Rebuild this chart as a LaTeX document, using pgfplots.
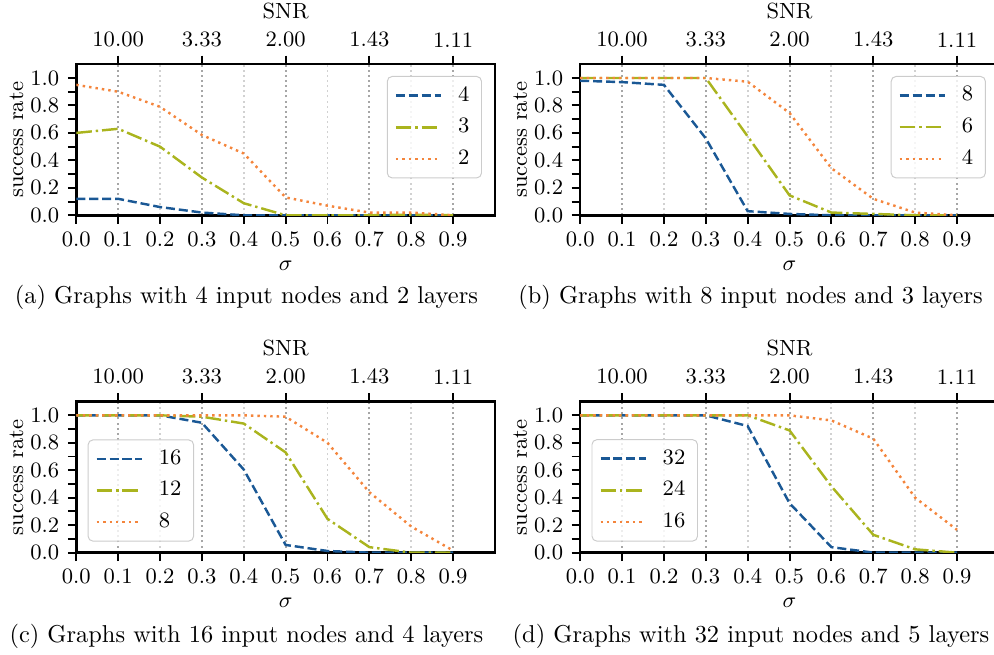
\documentclass[border=0pt]{standalone}
\usepackage{pgfplots}
\usepackage{pgfplotstable}
\pgfplotsset{compat=1.18}
\definecolor{cblue}{HTML}{1A5895}
\definecolor{cgreen}{HTML}{AAB41E}
\definecolor{corange}{HTML}{F4853C}

\pgfplotsset{
  base/.style={scale only axis, width=171.6pt, height=61.9pt,
    xmin=0, xmax=1, ymin=0, ymax=1.1, font=\small,
    tick align=outside, major tick length=3.5pt,
    tick style={black, line width=0.8pt}},
  main/.style={base, axis line style={line width=1pt},
    minor tick length=3.5pt,
    xtick={0,0.1,0.2,0.3,0.4,0.5,0.6,0.7,0.8,0.9},
    ytick={0,0.2,0.4,0.6,0.8,1.0},
    minor ytick={0.1,0.3,0.5,0.7,0.9},
    xtick pos=bottom, ytick pos=left,
    xticklabel style={/pgf/number format/.cd, fixed, fixed zerofill, precision=1},
    yticklabel style={/pgf/number format/.cd, fixed, fixed zerofill, precision=1},
    xlabel={$\sigma$}, ylabel={success rate},
    ylabel shift=-4pt, xlabel shift=-1pt,
    legend cell align=left,
    legend style={font=\small, draw=black!20, rounded corners=2pt, fill=white,
      fill opacity=0.8, text opacity=1, inner xsep=3pt, inner ysep=2pt,
      row sep=1.5pt},
    legend image code/.code={\draw[##1] (0cm,0cm) -- (0.65cm,0cm); \path (0.65cm+4.5pt,0cm);},
  },
  top/.style={base, axis x line*=top, axis y line=none,
    xtick={0.1,0.3,0.5,0.7,0.9},
    xticklabels={10.00,3.33,2.00,1.43,1.11},
    minor xtick={0,0.2,0.4,0.6,0.8}, minor tick length=0pt,
    xmajorgrids, xminorgrids,
    major grid style={black!35, line width=0.8pt, dash pattern=on 0.8pt off 1.3pt},
    minor grid style={black!18, line width=0.8pt, dash pattern=on 0.8pt off 1.3pt},
    xlabel={SNR}, xlabel shift=-1.5pt},
  ne/.style={legend style={at={(0.969,0.9225)}, anchor=north east}},
  sw/.style={legend style={at={(0.027,0.073)}, anchor=south west}},
  s1/.style={cblue, line width=1pt, dash pattern=on 3.7pt off 1.6pt},
  s2/.style={cgreen, line width=1pt, dash pattern=on 6.4pt off 1.6pt on 1pt off 1.6pt},
  s3/.style={corange, line width=1pt, dash pattern=on 1pt off 1.65pt},
}

\pgfplotstableread{
x b g o
0.0 0.12 0.60 0.95
0.1 0.12 0.63 0.90
0.2 0.06 0.50 0.79
0.3 0.02 0.275 0.585
0.4 0.0 0.088 0.45
0.5 0.0 0.0 0.13
0.6 0.0 0.0 0.07
0.7 0.0 0.0 0.02
0.8 0.0 0.005 0.02
0.9 0.0 0.0 0.0
}\dataA

\pgfplotstableread{
x b g o
0.0 0.98 1.0 1.0
0.1 0.97 1.0 1.0
0.2 0.95 1.0 1.0
0.3 0.56 1.0 1.0
0.4 0.03 0.575 0.973
0.5 0.01 0.145 0.745
0.6 0.0 0.02 0.343
0.7 0.0 0.01 0.12
0.8 0.0 0.0 0.02
0.9 0.0 0.0 0.0
}\dataB

\pgfplotstableread{
x b g o
0.0 1.0 1.0 1.0
0.1 1.0 1.0 1.0
0.2 1.0 1.0 1.0
0.3 0.946 0.99 1.0
0.4 0.605 0.94 1.0
0.5 0.056 0.73 0.99
0.6 0.012 0.246 0.80
0.7 0.0 0.04 0.44
0.8 0.0 0.0 0.19
0.9 0.0 0.0 0.015
}\dataC

\pgfplotstableread{
x b g o
0.0 1.0 1.0 1.0
0.1 1.0 1.0 1.0
0.2 1.0 1.0 1.0
0.3 1.0 1.0 1.0
0.4 0.922 1.0 1.0
0.5 0.36 0.89 1.0
0.6 0.04 0.483 0.963
0.7 0.0 0.13 0.83
0.8 0.0 0.024 0.40
0.9 0.0 0.0 0.166
}\dataD

\begin{document}
\begin{tikzpicture}
\useasboundingbox (0,0) rectangle (407.4pt,268.4pt);

% (a)
\begin{axis}[top, at={(31.27pt,180.16pt)}, anchor=south west]
\end{axis}
\begin{axis}[main, ne, at={(31.27pt,180.16pt)}, anchor=south west]
\addplot[s1] table[x=x,y=b]{\dataA};
\addplot[s2] table[x=x,y=g]{\dataA};
\addplot[s3] table[x=x,y=o]{\dataA};
\legend{4,3,2}
\end{axis}

% (b)
\begin{axis}[top, at={(237.8pt,180.16pt)}, anchor=south west]
\end{axis}
\begin{axis}[main, ne, at={(237.8pt,180.16pt)}, anchor=south west]
\addplot[s1] table[x=x,y=b]{\dataB};
\addplot[s2] table[x=x,y=g]{\dataB};
\addplot[s3] table[x=x,y=o]{\dataB};
\legend{8,6,4}
\end{axis}

% (c)
\begin{axis}[top, at={(31.27pt,41.9pt)}, anchor=south west]
\end{axis}
\begin{axis}[main, sw, at={(31.27pt,41.9pt)}, anchor=south west]
\addplot[s1] table[x=x,y=b]{\dataC};
\addplot[s2] table[x=x,y=g]{\dataC};
\addplot[s3] table[x=x,y=o]{\dataC};
\legend{16,12,8}
\end{axis}

% (d)
\begin{axis}[top, at={(237.8pt,41.9pt)}, anchor=south west]
\end{axis}
\begin{axis}[main, sw, at={(237.8pt,41.9pt)}, anchor=south west]
\addplot[s1] table[x=x,y=b]{\dataD};
\addplot[s2] table[x=x,y=g]{\dataD};
\addplot[s3] table[x=x,y=o]{\dataD};
\legend{32,24,16}
\end{axis}

\node at (101pt,146.7pt) {(a) Graphs with 4 input nodes and 2 layers};
\node at (307.6pt,146.7pt) {(b) Graphs with 8 input nodes and 3 layers};
\node at (101pt,7.6pt) {(c) Graphs with 16 input nodes and 4 layers};
\node at (307.8pt,7.6pt) {(d) Graphs with 32 input nodes and 5 layers};
\end{tikzpicture}
\end{document}
